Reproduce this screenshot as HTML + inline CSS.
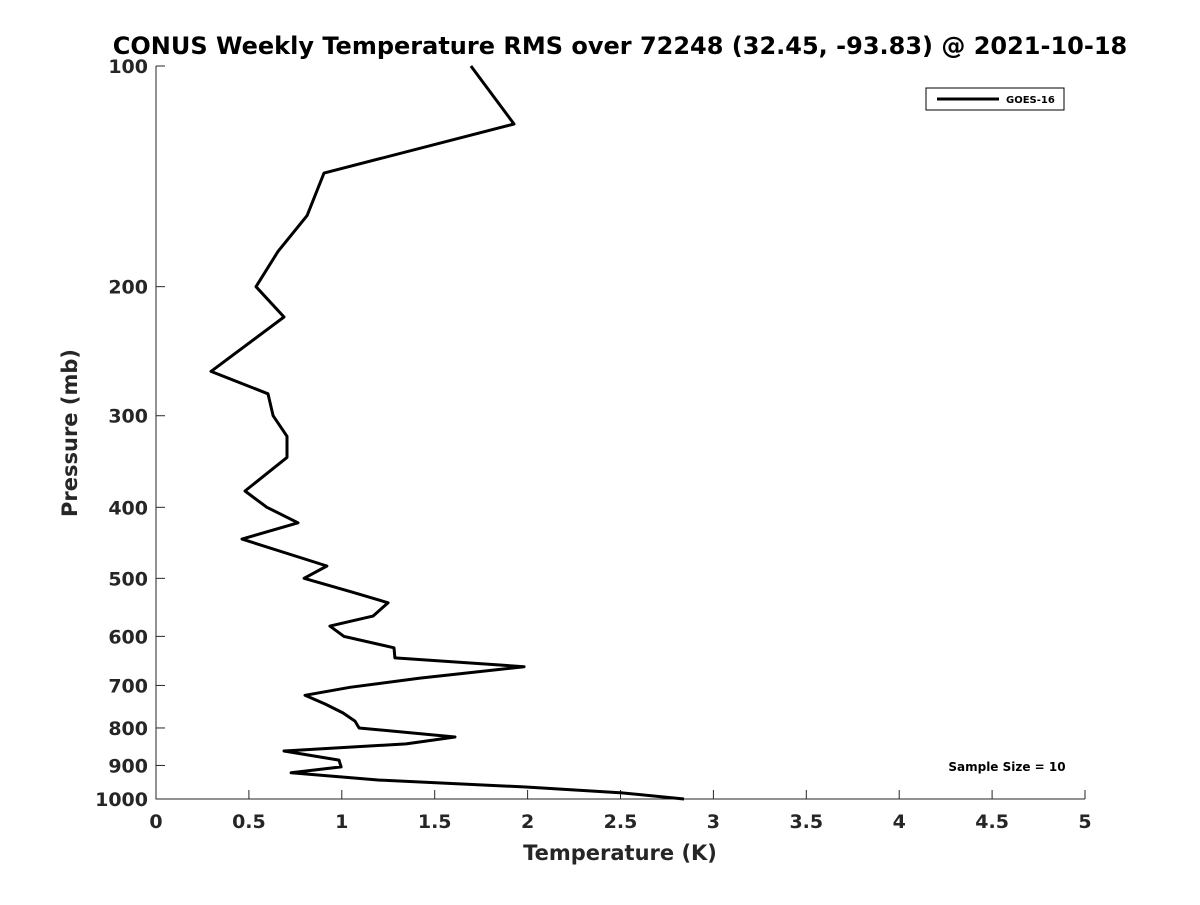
<!DOCTYPE html>
<html><head><meta charset="utf-8"><style>
body{margin:0;background:#fff;}
text{font-family:"DejaVu Sans","Liberation Sans",sans-serif;font-weight:bold;}
</style></head><body>
<svg width="1200" height="900" xmlns="http://www.w3.org/2000/svg">
<rect width="1200" height="900" fill="#fff"/>
<text x="620" y="54" text-anchor="middle" font-size="24" fill="#000">CONUS Weekly Temperature RMS over 72248 (32.45, -93.83) @ 2021-10-18</text>
<g id="axes"></g>
<text x="620" y="860" text-anchor="middle" font-size="21" fill="#262626">Temperature (K)</text>
<text transform="translate(77,433) rotate(-90)" text-anchor="middle" font-size="21" fill="#262626">Pressure (mb)</text>
<g>
<rect x="926" y="88" width="138" height="22" fill="#fff" stroke="#000" stroke-width="1"/>
<line x1="937" y1="99" x2="999" y2="99" stroke="#000" stroke-width="3"/>
<text x="1006" y="103" font-size="10" fill="#000">GOES-16</text>
</g>
<text x="1007" y="771" text-anchor="middle" font-size="12" fill="#000">Sample Size = 10</text>
</svg>
<script>
const temps=[1.695,1.927,0.904,0.813,0.657,0.538,0.689,0.296,0.603,0.63,0.705,0.705,0.479,0.597,0.764,0.463,0.92,0.797,1.055,1.249,1.168,0.936,1.012,1.281,1.286,1.981,1.421,1.044,0.802,0.91,1.006,1.071,1.093,1.609,1.346,0.689,0.985,0.996,0.727,1.195,1.991,2.508,2.842];
const pressures=[100,120,140,160,179,200,220,261,280,300,320,342,380,400,420,442,481,500,522,540,563,581,600,622,642,660,684,704,722,742,763,783,800,823,841,860,885,904,921,942,963,981,1000];
const xTicks=[0,0.5,1,1.5,2,2.5,3,3.5,4,4.5,5];
const xTickLabels=["0","0.5","1","1.5","2","2.5","3","3.5","4","4.5","5"];
const yTicks=[100,200,300,400,500,600,700,800,900,1000];
const NS="http://www.w3.org/2000/svg";
const L=156,R=1085,T=66,B=799;
const xs=v=>L+(v-0)/5*(R-L);
const ys=p=>T+Math.log10(p/100)*(B-T);
const svg=document.querySelector('svg');
const g=document.getElementById('axes');
function mk(tag,a,parent){const e=document.createElementNS(NS,tag);for(const k in a)e.setAttribute(k,a[k]);(parent||g).appendChild(e);return e;}
const ax=mk('path',{d:`M${L},${T}L${L},${B}L${R},${B}`,fill:'none',stroke:'#262626','stroke-width':1});


xTicks.forEach((v,i)=>{const x=xs(v);
const t=mk('line',{x1:x,y1:B,x2:x,y2:B-9,stroke:'#262626'});


const tx=mk('text',{x:x,y:B+29,'text-anchor':'middle','font-size':19,fill:'#262626'});tx.textContent=xTickLabels[i];

});
yTicks.forEach(p=>{const y=ys(p);
const t=mk('line',{x1:L,y1:y,x2:L+9,y2:y,stroke:'#262626'});


const tx=mk('text',{x:L-8,y:y+7,'text-anchor':'end','font-size':19,fill:'#262626'});tx.textContent=String(p);

});
const d=temps.map((t,i)=>(i?'L':'M')+xs(t).toFixed(1)+','+ys(pressures[i]).toFixed(1)).join('');
const line=mk('path',{d:d,fill:'none',stroke:'#000','stroke-width':3,'stroke-linejoin':'round'});


</script>
</body></html>
